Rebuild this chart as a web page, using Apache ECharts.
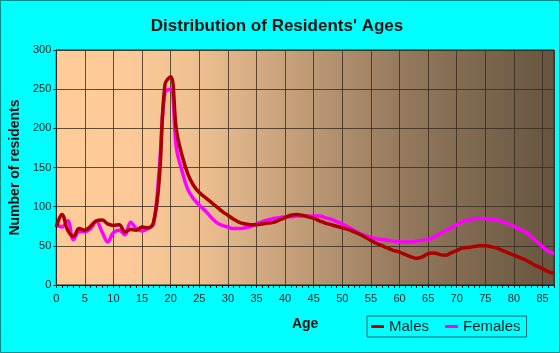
<!DOCTYPE html>
<html>
<head>
<meta charset="utf-8">
<script src="https://cdn.jsdelivr.net/npm/echarts@6/dist/echarts.min.js"></script>
<style>
  html, body { margin: 0; padding: 0; background: #00ffff; }
  #chart { width: 560px; height: 353px; }
</style>
</head>
<body>
<div id="chart"></div>
<script>
var ages = [];
for (var a = 0; a <= 87; a++) ages.push(a);

var males = [74, 90, 70, 62, 72, 70, 75, 82, 83, 78,
  76, 77, 68, 71, 70, 74, 73, 80, 135, 256,
  266, 198, 165, 142, 127, 118, 112, 106, 100, 94,
  89, 84, 80, 78, 77, 77, 78, 79, 80, 83,
  86, 89, 90, 89, 87, 85, 82, 79, 77, 75,
  73, 71, 68, 65, 61, 57, 53, 50, 47, 44,
  42, 39, 36, 34, 36, 40, 41, 39, 38, 41,
  44, 47, 48, 49, 50, 50, 49, 47, 44, 41,
  38, 35, 32, 28, 24, 21, 17, 15];

var females = [78, 74, 82, 58, 68, 68, 72, 81, 68, 55,
  67, 70, 64, 80, 72, 69, 72, 78, 148, 246,
  250, 175, 145, 122, 110, 102, 95, 87, 80, 76,
  74, 72, 72, 73, 75, 78, 81, 83, 85, 86,
  87, 87, 88, 88, 88, 88, 88, 86, 84, 81,
  78, 74, 70, 66, 63, 61, 59, 58, 57, 56,
  55, 55, 55, 56, 57, 58, 61, 65, 69, 73,
  77, 81, 83, 85, 85, 85, 84, 83, 81, 78,
  75, 71, 68, 62, 55, 49, 43, 40];

function pairs(vals) {
  return ages.map(function (x, i) { return [x, vals[i]]; });
}

var ink = '#002222';
var gridLine = 'rgba(55, 44, 32, 0.8)';

var chart = echarts.init(document.getElementById('chart'), null, { renderer: 'canvas' });
chart.setOption({
  animation: false,
  backgroundColor: '#00ffff',
  title: {
    text: "Distribution of Residents' Ages",
    left: 272,
    top: 13,
    textAlign: 'center',
    textStyle: { fontFamily: 'Liberation Sans, Arial, sans-serif', fontSize: 17, fontWeight: 'bold', color: '#111111' }
  },
  legend: {
    data: ['Males', 'Females'],
    left: 367,
    top: 316,
    width: 154,
    padding: [3, 6, 3, 4],
    borderColor: '#006666',
    borderWidth: 1,
    itemWidth: 13,
    itemHeight: 3,
    itemGap: 16,
    icon: 'rect',
    textStyle: { fontFamily: 'Liberation Sans, Arial, sans-serif', fontSize: 15, color: ink }
  },
  graphic: [{
    type: 'rect',
    shape: { x: 0.5, y: 0.5, width: 559, height: 352 },
    style: { fill: null, stroke: '#008b8b', lineWidth: 1 },
    silent: true
  }],
  grid: {
    left: 54, right: 6, top: 50, bottom: 68,
    show: true,
    borderColor: '#2a2218',
    borderWidth: 1,
    backgroundColor: new echarts.graphic.LinearGradient(0, 0, 1, 0, [
      { offset: 0, color: '#ffcc99' },
      { offset: 0.15, color: '#fcca98' },
      { offset: 0.29, color: '#edbf90' },
      { offset: 0.69, color: '#957a5e' },
      { offset: 1, color: '#66553f' }
    ])
  },
  xAxis: {
    type: 'value',
    min: 0,
    max: 87,
    interval: 5,
    name: 'Age',
    nameLocation: 'middle',
    nameGap: 32,
    nameTextStyle: { fontFamily: 'Liberation Sans, Arial, sans-serif', fontSize: 14, fontWeight: 'bold', color: '#111111' },
    axisLine: { show: true, lineStyle: { color: ink, width: 1 } },
    axisTick: { show: true, length: 3, lineStyle: { color: ink } },
    minorTick: { show: true, splitNumber: 5, length: 3, lineStyle: { color: ink } },
    axisLabel: { color: ink, fontSize: 11, margin: 8, showMaxLabel: false, fontFamily: 'Liberation Sans, Arial, sans-serif' },
    splitLine: { show: true, lineStyle: { color: gridLine, width: 1 } }
  },
  yAxis: {
    type: 'value',
    min: 0,
    max: 300,
    interval: 50,
    name: 'Number of residents',
    nameLocation: 'middle',
    nameGap: 34,
    nameTextStyle: { fontFamily: 'Liberation Sans, Arial, sans-serif', fontSize: 14, fontWeight: 'bold', color: '#111111' },
    axisLine: { show: true, lineStyle: { color: ink, width: 1 } },
    axisTick: { show: true, length: 3, lineStyle: { color: ink } },
    axisLabel: { color: ink, fontSize: 11, margin: 5, fontFamily: 'Liberation Sans, Arial, sans-serif' },
    splitLine: { show: true, lineStyle: { color: gridLine, width: 1 } }
  },
  series: [
    {
      name: 'Females',
      type: 'line',
      data: pairs(females),
      smooth: 0.4,
      symbol: 'none',
      z: 2,
      lineStyle: { color: '#ff00ff', width: 3.5 },
      itemStyle: { color: '#ff00ff' }
    },
    {
      name: 'Males',
      type: 'line',
      data: pairs(males),
      smooth: 0.4,
      symbol: 'none',
      z: 3,
      lineStyle: { color: '#aa0000', width: 3.5 },
      itemStyle: { color: '#aa0000' }
    }
  ]
});
</script>
</body>
</html>
